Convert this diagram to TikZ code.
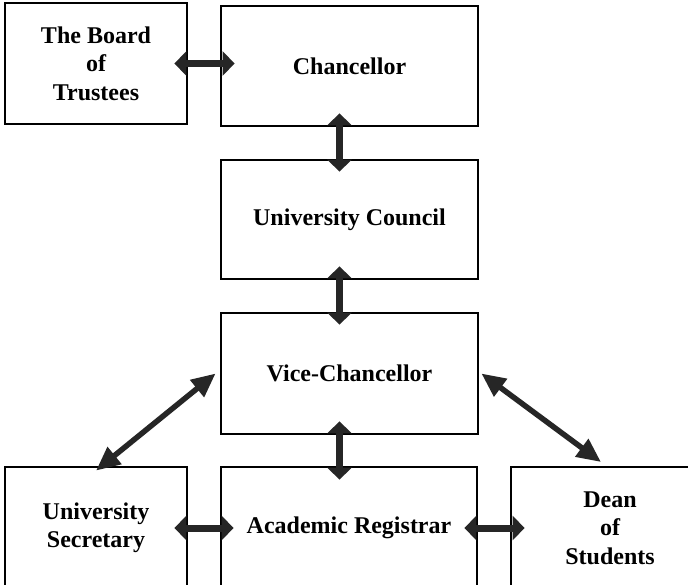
\documentclass[tikz,border=0pt]{standalone}
\usepackage{fontspec}
\setmainfont{Liberation Serif}
\usetikzlibrary{arrows.meta}
\begin{document}
\begin{tikzpicture}[x=1pt,y=-1pt,
  orgbox/.style={draw=black,line width=2.8pt,rectangle,inner sep=0pt,align=center,
    font=\fontsize{24}{28.5}\selectfont\bfseries},
  biarrow/.style={line width=7pt,draw=black!85,{Triangle[width=24pt,length=12pt]}-{Triangle[width=24pt,length=12pt]}},
  diagarrow/.style={line width=5.5pt,draw=black!85,{Triangle[width=21pt,length=24pt]}-{Triangle[width=21pt,length=24pt]}}]
\clip (0,0) rectangle (688,585);
\fill[white] (0,0) rectangle (688,585);
\node[orgbox,minimum width=182pt,minimum height=121pt] (board) at (96,63.5) {The Board\\of\\Trustees};
\node[orgbox,minimum width=257pt,minimum height=120pt] (chan) at (349.5,66) {Chancellor};
\node[orgbox,minimum width=257pt,minimum height=119pt] (council) at (349.5,219.5) {University Council};
\node[orgbox,minimum width=257pt,minimum height=121pt] (vice) at (349.5,373.5) {Vice-Chancellor};
\node[orgbox,minimum width=182pt,minimum height=122pt] (sec) at (96,528) {University\\Secretary};
\node[orgbox,minimum width=256pt,minimum height=122pt] (acad) at (349,528) {Academic Registrar};
\node[orgbox,minimum width=198pt,minimum height=122pt] (dean) at (610,528) {Dean\\of\\Students};
\coordinate (deantip) at (601,462);
% horizontal
\draw[biarrow,shorten <=-14pt,shorten >=-15pt] (board.east) -- (board.east -| chan.west);
\draw[biarrow,shorten <=-14pt,shorten >=-14pt] (sec.east) -- (acad.west);
\draw[biarrow,shorten <=-14pt,shorten >=-15pt] (acad.east) -- (dean.west);
% vertical
\draw[biarrow,shorten <=-14pt,shorten >=-13pt] ([xshift=-10pt]chan.south) -- ([xshift=-10pt]council.north);
\draw[biarrow,shorten <=-14pt,shorten >=-13pt] ([xshift=-10pt]council.south) -- ([xshift=-10pt]vice.north);
\draw[biarrow,shorten <=-14pt,shorten >=-14pt] ([xshift=-10pt]vice.south) -- ([xshift=-9.5pt]acad.north);
% diagonal
\draw[diagarrow] ([xshift=-4pt]vice.west) -- ([yshift=-5pt]sec.north);
\draw[diagarrow] ([xshift=2pt]vice.east) -- (deantip);
\end{tikzpicture}
\end{document}
